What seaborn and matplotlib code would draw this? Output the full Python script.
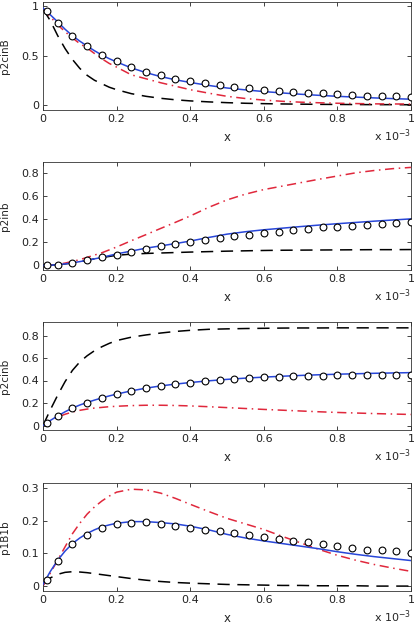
import numpy as np
import pandas as pd
import matplotlib
matplotlib.use("Agg")
import matplotlib.pyplot as plt
from matplotlib.ticker import FuncFormatter
import seaborn as sns

# x in units of 1e-3
x_line = [0, 0.02, 0.04, 0.06, 0.08, 0.1, 0.12, 0.14, 0.16, 0.18, 0.2, 0.24, 0.28,
          0.32, 0.36, 0.4, 0.45, 0.5, 0.55, 0.6, 0.65, 0.7, 0.75, 0.8, 0.85, 0.9, 0.95, 1.0]
x_pts = [0.01, 0.04, 0.08, 0.12, 0.16, 0.2, 0.24, 0.28, 0.32, 0.36, 0.4, 0.44, 0.48,
         0.52, 0.56, 0.6, 0.64, 0.68, 0.72, 0.76, 0.8, 0.84, 0.88, 0.92, 0.96, 1.0]

# p2cinB
p2cinB_blue = [0.98, 0.91, 0.84, 0.765, 0.70, 0.645, 0.595, 0.548, 0.505, 0.468, 0.435, 0.375, 0.327,
               0.287, 0.255, 0.228, 0.198, 0.172, 0.153, 0.136, 0.122, 0.109, 0.098, 0.088, 0.08, 0.072, 0.065, 0.059]
p2cinB_red = [0.97, 0.89, 0.81, 0.74, 0.677, 0.62, 0.575, 0.52, 0.467, 0.42, 0.383, 0.305, 0.265,
              0.225, 0.19, 0.155, 0.12, 0.088, 0.066, 0.05, 0.038, 0.029, 0.023, 0.018, 0.015, 0.012, 0.011, 0.01]
p2cinB_black = [0.97, 0.85, 0.70, 0.57, 0.46, 0.37, 0.30, 0.25, 0.215, 0.18, 0.155, 0.115, 0.088,
                0.068, 0.053, 0.042, 0.032, 0.024, 0.018, 0.014, 0.011, 0.009, 0.007, 0.006, 0.005, 0.004, 0.004, 0.003]
p2cinB_pts = [0.95, 0.827, 0.697, 0.597, 0.51, 0.44, 0.383, 0.337, 0.30, 0.267, 0.243, 0.22, 0.203,
              0.183, 0.167, 0.153, 0.143, 0.13, 0.123, 0.117, 0.107, 0.097, 0.093, 0.09, 0.087, 0.083]

# p2inb
p2inb_blue = [0.0, 0.002, 0.006, 0.013, 0.022, 0.033, 0.045, 0.057, 0.07, 0.085, 0.1, 0.125, 0.15,
              0.17, 0.19, 0.212, 0.243, 0.272, 0.293, 0.31, 0.324, 0.338, 0.351, 0.363, 0.374, 0.385, 0.395, 0.405]
p2inb_red = [0.0, 0.003, 0.01, 0.02, 0.035, 0.05, 0.07, 0.09, 0.11, 0.135, 0.16, 0.215, 0.268,
             0.322, 0.375, 0.43, 0.505, 0.57, 0.62, 0.66, 0.69, 0.72, 0.75, 0.778, 0.806, 0.826, 0.842, 0.853]
p2inb_black = [0.0, 0.002, 0.006, 0.013, 0.022, 0.033, 0.045, 0.057, 0.068, 0.078, 0.088, 0.098, 0.104,
               0.108, 0.112, 0.116, 0.12, 0.124, 0.127, 0.13, 0.132, 0.133, 0.134, 0.135, 0.136, 0.137, 0.137, 0.138]
p2inb_pts = [0.0, 0.006, 0.024, 0.047, 0.07, 0.094, 0.12, 0.147, 0.17, 0.188, 0.206, 0.224, 0.241,
             0.259, 0.268, 0.28, 0.29, 0.306, 0.318, 0.33, 0.338, 0.347, 0.353, 0.359, 0.365, 0.374]

# p2cinb
p2cinb_blue = [0.0, 0.045, 0.085, 0.122, 0.155, 0.182, 0.205, 0.226, 0.245, 0.263, 0.279, 0.308, 0.332,
               0.352, 0.368, 0.382, 0.397, 0.41, 0.421, 0.43, 0.438, 0.445, 0.451, 0.456, 0.46, 0.464, 0.467, 0.47]
p2cinb_red = [0.0, 0.04, 0.075, 0.1, 0.12, 0.135, 0.146, 0.155, 0.161, 0.167, 0.171, 0.177, 0.18,
              0.18, 0.178, 0.174, 0.167, 0.159, 0.151, 0.143, 0.136, 0.129, 0.122, 0.116, 0.111, 0.106, 0.102, 0.098]
p2cinb_black = [0.0, 0.14, 0.27, 0.39, 0.49, 0.565, 0.62, 0.665, 0.70, 0.73, 0.755, 0.785, 0.805,
                0.822, 0.836, 0.846, 0.855, 0.859, 0.862, 0.864, 0.866, 0.867, 0.867, 0.868, 0.868, 0.868, 0.868, 0.868]
p2cinb_pts = [0.024, 0.083, 0.154, 0.2, 0.246, 0.279, 0.311, 0.332, 0.353, 0.367, 0.382, 0.394, 0.406,
              0.412, 0.42, 0.427, 0.433, 0.436, 0.438, 0.444, 0.447, 0.45, 0.45, 0.453, 0.453, 0.453]

# p1B1b
p1B1b_blue = [0.005, 0.045, 0.079, 0.107, 0.13, 0.147, 0.161, 0.172, 0.181, 0.187, 0.192, 0.197, 0.197,
              0.194, 0.19, 0.183, 0.172, 0.158, 0.147, 0.138, 0.13, 0.122, 0.114, 0.105, 0.097, 0.09, 0.084, 0.078]
p1B1b_red = [0.0, 0.04, 0.08, 0.12, 0.16, 0.192, 0.22, 0.242, 0.26, 0.275, 0.287, 0.296, 0.294,
             0.284, 0.268, 0.25, 0.228, 0.207, 0.19, 0.173, 0.152, 0.132, 0.112, 0.094, 0.079, 0.066, 0.055, 0.045]
p1B1b_black = [0.005, 0.025, 0.036, 0.042, 0.044, 0.043, 0.041, 0.038, 0.035, 0.032, 0.029, 0.023, 0.018,
               0.014, 0.011, 0.009, 0.007, 0.005, 0.004, 0.003, 0.002, 0.002, 0.001, 0.001, 0.001, 0.0, 0.0, 0.0]
p1B1b_pts = [0.02, 0.077, 0.128, 0.157, 0.177, 0.189, 0.193, 0.195, 0.19, 0.185, 0.179, 0.172, 0.167,
             0.161, 0.155, 0.15, 0.145, 0.139, 0.134, 0.13, 0.122, 0.116, 0.111, 0.109, 0.107, 0.101]

panels = [
    ("p2cinB", p2cinB_blue, p2cinB_red, p2cinB_black, p2cinB_pts, (-0.05, 1.04), [0, 0.5, 1]),
    ("p2inb", p2inb_blue, p2inb_red, p2inb_black, p2inb_pts, (-0.04, 0.9), [0, 0.2, 0.4, 0.6, 0.8]),
    ("p2cinb", p2cinb_blue, p2cinb_red, p2cinb_black, p2cinb_pts, (-0.04, 0.92), [0, 0.2, 0.4, 0.6, 0.8]),
    ("p1B1b", p1B1b_blue, p1B1b_red, p1B1b_black, p1B1b_pts, (-0.015, 0.315), [0, 0.1, 0.2, 0.3]),
]

sns.set_style("ticks")
plt.rcParams["font.family"] = ["DejaVu Sans"]
plt.rcParams["xtick.direction"] = "in"
plt.rcParams["ytick.direction"] = "in"

fig = plt.figure(figsize=(4.15, 6.25), dpi=100)
bottoms = [0.824, 0.568, 0.312, 0.0544]
fmt = FuncFormatter(lambda v, p: "%g" % round(v, 3))

for (name, blue, red, black, pts, ylim, yt), b in zip(panels, bottoms):
    ax = fig.add_axes([0.1036, b, 0.8867, 0.1728])
    sns.lineplot(x=x_line, y=black, ax=ax, color="black", linewidth=1.1,
                 linestyle=(0, (8, 5)), zorder=2)
    sns.lineplot(x=x_line, y=red, ax=ax, color="#e0283c", linewidth=1.1,
                 linestyle=(0, (6, 3, 1, 3)), zorder=2)
    sns.lineplot(x=x_line, y=blue, ax=ax, color="#2846d8", linewidth=1.1, zorder=3)
    sns.scatterplot(x=x_pts, y=pts, ax=ax, marker="o", s=24, color="white",
                    edgecolor="black", linewidth=0.8, zorder=4)
    ax.set_xlim(0, 1)
    ax.set_ylim(*ylim)
    ax.set_xticks([0, 0.2, 0.4, 0.6, 0.8, 1])
    ax.set_yticks(yt)
    ax.xaxis.set_major_formatter(fmt)
    ax.yaxis.set_major_formatter(fmt)
    ax.tick_params(top=True, right=True, length=3, width=0.6, labelsize=8,
                   colors="#222222", pad=3)
    for s in ax.spines.values():
        s.set_linewidth(0.6)
        s.set_color("#333333")
    ax.set_xlabel("x", fontsize=8.5)
    ax.xaxis.set_label_coords(0.5, -0.19)
    ax.set_ylabel(name, fontsize=7.5)
    ax.yaxis.set_label_coords(-0.09, 0.5)
    ax.text(1.0, -0.235, r"x 10$^{-3}$", transform=ax.transAxes, ha="right",
            va="center", fontsize=8)

fig.savefig("out.png", dpi=100)
